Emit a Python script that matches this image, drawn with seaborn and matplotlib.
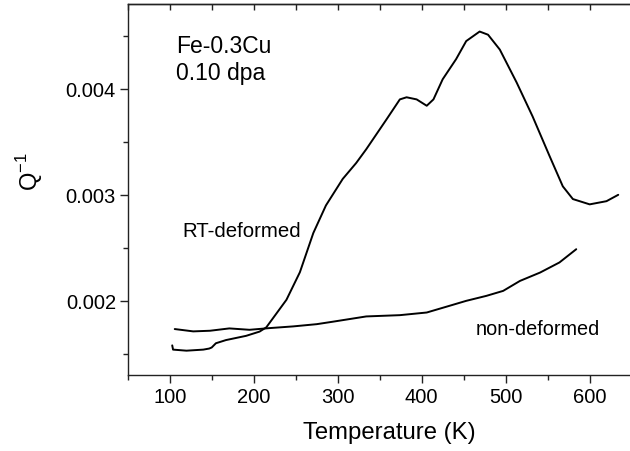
import numpy as np
import pandas as pd
import matplotlib
matplotlib.use("Agg")
import matplotlib.pyplot as plt
from matplotlib.ticker import MultipleLocator
import seaborn as sns

# -----------------------------
# DATA
# -----------------------------
rt_temp = [103, 104, 120, 140, 147, 150, 155, 167, 191, 207, 215, 227, 239,
           255, 271, 286, 298, 306, 322, 334, 358, 374, 382, 394, 406, 414,
           425, 441, 453, 469, 479, 493, 513, 532, 552, 568, 580, 600, 620, 634]
rt_q = [0.00158, 0.00154, 0.00153, 0.00154, 0.00155, 0.00156, 0.00160, 0.00163,
        0.00167, 0.00171, 0.00175, 0.00188, 0.00201, 0.00227, 0.00264, 0.00290,
        0.00305, 0.00315, 0.00330, 0.00343, 0.00371, 0.00390, 0.00392, 0.00390,
        0.00384, 0.00390, 0.00409, 0.00428, 0.00445, 0.00454, 0.00451, 0.00437,
        0.00406, 0.00374, 0.00337, 0.00308, 0.00296, 0.00291, 0.00294, 0.00300]

nd_temp = [106, 128, 148, 171, 195, 219, 247, 275, 294, 334, 374, 406, 433,
           453, 477, 497, 517, 541, 564, 584]
nd_q = [0.001734, 0.001712, 0.001718, 0.00174, 0.001727, 0.001743, 0.001759,
        0.00178, 0.001803, 0.001853, 0.001865, 0.00189, 0.001953, 0.002,
        0.002047, 0.002094, 0.002188, 0.002267, 0.002362, 0.002487]

x_label = "Temperature (K)"
y_label = "Q$^{-1}$"

# -----------------------------
# PLOT
# -----------------------------
sns.set_style("ticks")
plt.rcParams["font.family"] = ["Liberation Sans", "DejaVu Sans"]
plt.rcParams["mathtext.fontset"] = "custom"
plt.rcParams["mathtext.rm"] = "Liberation Sans"
plt.rcParams["text.color"] = "black"
plt.rcParams["axes.labelcolor"] = "black"
plt.rcParams["xtick.color"] = "#222222"
plt.rcParams["ytick.color"] = "#222222"
plt.rcParams["xtick.labelcolor"] = "black"
plt.rcParams["ytick.labelcolor"] = "black"

df = pd.concat([
    pd.DataFrame({"T": rt_temp, "Q": rt_q, "sample": "RT-deformed"}),
    pd.DataFrame({"T": nd_temp, "Q": nd_q, "sample": "non-deformed"}),
])

fig = plt.figure(figsize=(6.3, 4.52), dpi=100)
ax = fig.add_axes([0.2027, 0.168, 0.7973, 0.821])

sns.lineplot(data=df, x="T", y="Q", units="sample", estimator=None,
             color="black", linewidth=1.4, sort=False, legend=False, ax=ax)

ax.set_xlim(50, 648)
ax.set_ylim(0.0013, 0.0048)
ax.xaxis.set_major_locator(MultipleLocator(100))
ax.xaxis.set_minor_locator(MultipleLocator(50))
ax.yaxis.set_major_locator(MultipleLocator(0.001))
ax.yaxis.set_minor_locator(MultipleLocator(0.0005))
ax.set_xticks([100, 200, 300, 400, 500, 600])
ax.set_yticks([0.002, 0.003, 0.004])
ax.set_yticklabels(["0.002", "0.003", "0.004"])

ax.spines["right"].set_visible(False)
for s in ["left", "bottom", "top"]:
    ax.spines[s].set_linewidth(1.0)
    ax.spines[s].set_color("#222222")

ax.tick_params(axis="both", which="major", direction="out", length=5.5,
               width=1.0, labelsize=14.5, pad=3)
ax.tick_params(axis="both", which="minor", direction="out", length=3.5,
               width=1.0)

# inward ticks along the top spine, no labels
top = ax.secondary_xaxis("top")
top.xaxis.set_major_locator(MultipleLocator(100))
top.xaxis.set_minor_locator(MultipleLocator(50))
top.tick_params(which="both", direction="in", length=4, width=1.0,
                labeltop=False, color="#222222")
top.spines["top"].set_linewidth(1.0)
top.spines["top"].set_color("#222222")

ax.set_xlabel(x_label, fontsize=17.2)
ax.set_ylabel(y_label, fontsize=17)
ax.xaxis.set_label_coords(0.52, -0.125)
ax.yaxis.set_label_coords(-0.165, 0.55)

ax.text(108, 0.00435, "Fe-0.3Cu", fontsize=16.5, va="baseline")
ax.text(108, 0.00409, "0.10 dpa", fontsize=16.5, va="baseline")
ax.text(115, 0.00266, "RT-deformed", fontsize=14.7, va="center")
ax.text(464, 0.00174, "non-deformed", fontsize=14.3, va="center")

fig.savefig("out.png", dpi=100)
